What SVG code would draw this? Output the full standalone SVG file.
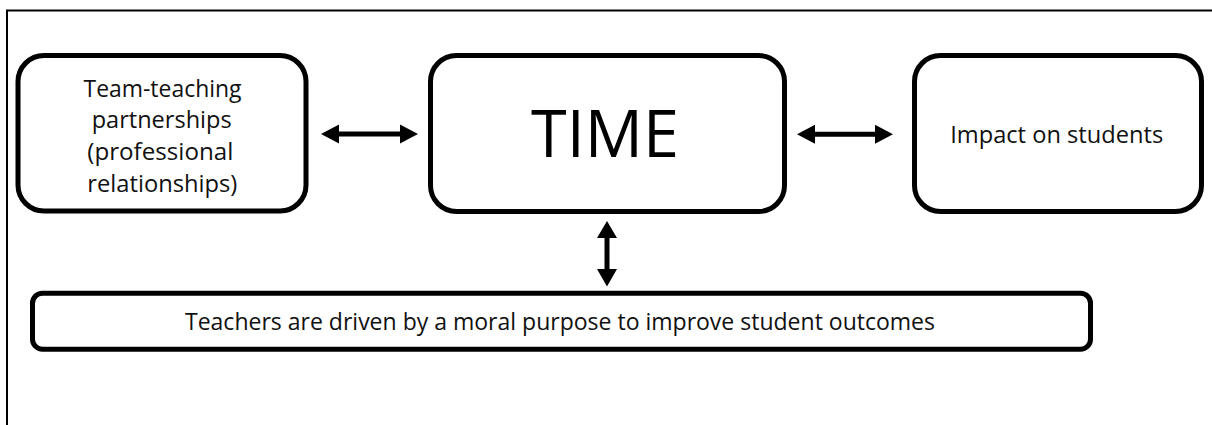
<svg xmlns="http://www.w3.org/2000/svg" width="1212" height="425" viewBox="0 0 1212 425">
  <style>
    .box { fill: #ffffff; stroke: #000000; stroke-width: 5; }
    .frame { fill: none; stroke: #000000; stroke-width: 2; }
    .lbl { font-family: "Open Sans", "Liberation Sans", sans-serif; font-size: 24.5px; fill: #111111; text-anchor: middle; }
    .big { font-family: "Open Sans", "Liberation Sans", sans-serif; font-size: 65px; fill: #000000; text-anchor: middle; }
    .arrow { fill: #000000; stroke: none; }
  </style>

  <rect width="1212" height="425" fill="#ffffff"/>
  <!-- outer frame: top and left edges -->
  <path class="frame" d="M7,425 V10.5 H1212"/>

  <g id="node-partnerships">
    <rect class="box" x="18" y="55.5" width="288" height="155.5" rx="26"/>
    <text class="lbl" x="162.5" y="96.7" textLength="158" lengthAdjust="spacingAndGlyphs">Team-teaching</text>
    <text class="lbl" x="161.7" y="128.3" textLength="140" lengthAdjust="spacingAndGlyphs">partnerships</text>
    <text class="lbl" x="160.3" y="160" textLength="146" lengthAdjust="spacingAndGlyphs">(professional</text>
    <text class="lbl" x="162.3" y="191.7" textLength="150" lengthAdjust="spacingAndGlyphs">relationships)</text>
  </g>

  <g id="node-time">
    <rect class="box" x="430.5" y="55.5" width="354" height="156" rx="26"/>
    <text class="big" x="605" y="157.3" textLength="148" lengthAdjust="spacingAndGlyphs">TIME</text>
  </g>

  <g id="node-impact">
    <rect class="box" x="914.5" y="55.5" width="287" height="156" rx="26"/>
    <text class="lbl" x="1056.7" y="142.7" textLength="213" lengthAdjust="spacingAndGlyphs">Impact on students</text>
  </g>

  <g id="node-purpose">
    <rect class="box" x="32.5" y="293.2" width="1058" height="56" rx="10"/>
    <text class="lbl" x="560" y="330" textLength="750" lengthAdjust="spacingAndGlyphs">Teachers are driven by a moral purpose to improve student outcomes</text>
  </g>

  <g id="connectors">
    <!-- partnerships <-> TIME -->
    <path class="arrow" d="M321,134 L339,124.5 L339,131.5 L400,131.5 L400,124.5 L418,134 L400,143.5 L400,136.5 L339,136.5 L339,143.5 Z"/>
    <!-- TIME <-> impact -->
    <path class="arrow" d="M797,134.3 L815,124.8 L815,131.8 L875,131.8 L875,124.8 L893,134.3 L875,143.8 L875,136.8 L815,136.8 L815,143.8 Z"/>
    <!-- TIME <-> moral purpose -->
    <path class="arrow" d="M607,221 L617,238 L609.5,238 L609.5,269 L617,269 L607,286.5 L597,269 L604.5,269 L604.5,238 L597,238 Z"/>
  </g>
</svg>
